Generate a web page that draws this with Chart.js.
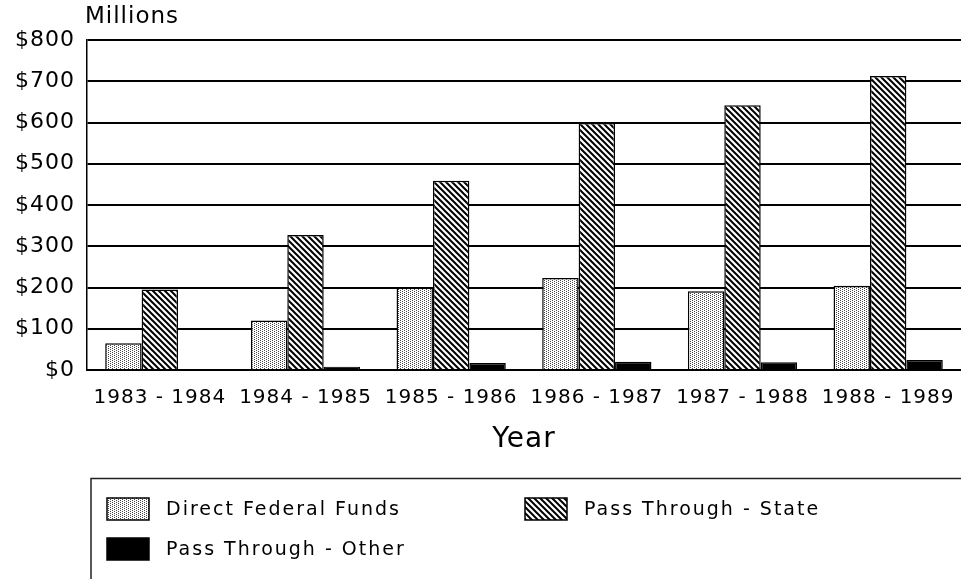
<!DOCTYPE html>
<html>
<head>
<meta charset="utf-8">
<script src="https://cdn.jsdelivr.net/npm/chart.js@4"></script>
<style>
  html, body { margin: 0; padding: 0; background: #fff; }
  canvas { display: block; }
</style>
</head>
<body>
<canvas id="chart" width="961" height="579"></canvas>
<script>
/* ---------- data ---------- */
const categories = ['1983 - 1984', '1984 - 1985', '1985 - 1986', '1986 - 1987', '1987 - 1988', '1988 - 1989'];
const directFederal = [65, 120, 200, 223, 191, 204];
const passState = [195, 327, 459, 599, 642, 713];
const passOther = [2, 8, 17, 20, 19, 24];
const seriesNames = ['Direct Federal Funds', 'Pass Through - State', 'Pass Through - Other'];
const yMax = 800;
const yStep = 100;

const FONT = "'DejaVu Sans', sans-serif";
const canvas = document.getElementById('chart');
const ctx = canvas.getContext('2d');

/* ---------- fill patterns ---------- */
function dotPattern() {
  const t = document.createElement('canvas');
  t.width = 4; t.height = 2;
  const g = t.getContext('2d');
  g.fillStyle = '#fff';
  g.fillRect(0, 0, 4, 2);
  g.fillStyle = '#444';
  g.fillRect(0, 0, 1, 1);
  g.fillRect(2, 1, 1, 1);
  return ctx.createPattern(t, 'repeat');
}

function hatchPattern() {
  const t = document.createElement('canvas');
  t.width = 6; t.height = 6;
  const g = t.getContext('2d');
  g.fillStyle = '#fff';
  g.fillRect(0, 0, 6, 6);
  g.strokeStyle = '#000';
  g.lineWidth = 2;
  g.beginPath();
  g.moveTo(-1, -1); g.lineTo(7, 7);
  g.moveTo(4, -2); g.lineTo(8, 2);
  g.moveTo(-2, 4); g.lineTo(2, 8);
  g.stroke();
  return ctx.createPattern(t, 'repeat');
}

const fills = [dotPattern(), hatchPattern(), '#000'];

/* ---------- plugins ---------- */
const textSpacing = {
  id: 'textSpacing',
  beforeDraw(chart) { chart.ctx.letterSpacing = '1px'; },
};

const extras = {
  id: 'extras',
  afterDraw(chart) {
    const c = chart.ctx;
    c.save();
    // units label
    c.letterSpacing = '1px';
    c.fillStyle = '#000';
    c.font = `23px ${FONT}`;
    c.textBaseline = 'middle';
    c.textAlign = 'left';
    c.fillText('Millions', 85, 17);

    // legend box
    c.strokeStyle = '#222';
    c.lineWidth = 1.5;
    c.beginPath();
    c.moveTo(91, 579);
    c.lineTo(91, 478.5);
    c.lineTo(961, 478.5);
    c.stroke();

    const items = [
      { ds: 0, x: 107, y: 498 },
      { ds: 1, x: 525, y: 498 },
      { ds: 2, x: 107, y: 538 },
    ];
    c.font = `19px ${FONT}`;
    c.letterSpacing = '2px';
    items.forEach(it => {
      const ds = chart.data.datasets[it.ds];
      c.fillStyle = ds.backgroundColor;
      c.fillRect(it.x, it.y, 42, 22);
      c.strokeStyle = '#000';
      c.lineWidth = 1.5;
      c.strokeRect(it.x, it.y, 42, 22);
      c.fillStyle = '#000';
      c.fillText(ds.label, it.x + 59, it.y + 12);
    });
    c.restore();
  },
};

/* ---------- chart ---------- */
const barStyle = { borderColor: '#000', borderWidth: 1.5 };

new Chart(ctx, {
  type: 'bar',
  data: {
    labels: categories,
    datasets: [
      { label: seriesNames[0], data: directFederal, backgroundColor: fills[0], ...barStyle },
      { label: seriesNames[1], data: passState, backgroundColor: fills[1], ...barStyle },
      { label: seriesNames[2], data: passOther, backgroundColor: fills[2], ...barStyle },
    ],
  },
  options: {
    responsive: false,
    animation: false,
    devicePixelRatio: 1,
    layout: { padding: { top: 40, right: 0, bottom: 119, left: 0 } },
    datasets: { bar: { categoryPercentage: 0.75, barPercentage: 1 } },
    plugins: {
      legend: { display: false },
      tooltip: { enabled: false },
    },
    scales: {
      x: {
        grid: { display: false },
        border: { display: true, color: '#000', width: 2 },
        ticks: {
          color: '#000',
          font: { family: FONT, size: 20 },
          padding: 8,
          maxRotation: 0,
          autoSkip: false,
        },
        title: {
          display: true,
          text: 'Year',
          color: '#000',
          font: { family: FONT, size: 28 },
          padding: { top: 0, bottom: 3 },
        },
        afterFit: s => { s.height = 90; },
      },
      y: {
        min: 0,
        max: yMax,
        grid: { color: '#000', lineWidth: 2, drawTicks: false },
        border: { display: true, color: '#000', width: 1.5 },
        ticks: {
          stepSize: yStep,
          color: '#000',
          font: { family: FONT, size: 22 },
          padding: 12,
          callback: v => '$' + v,
        },
        afterFit: s => { s.width = 87; },
      },
    },
  },
  plugins: [textSpacing, extras],
});
</script>
</body>
</html>
